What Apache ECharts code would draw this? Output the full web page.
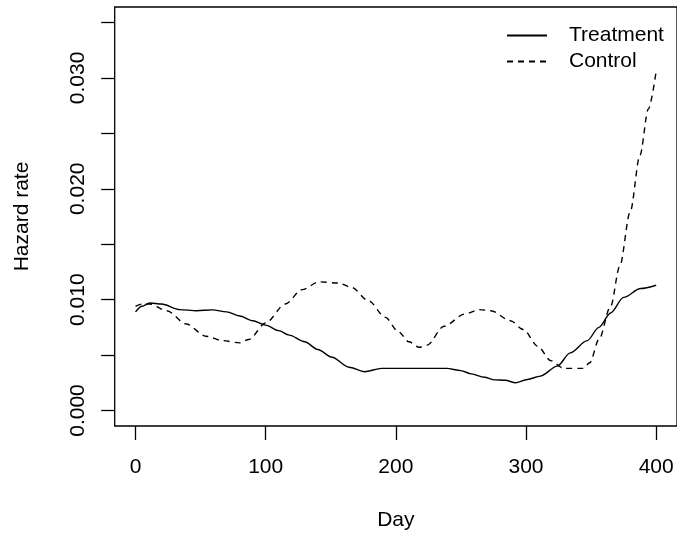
<!DOCTYPE html>
<html>
<head>
<meta charset="utf-8">
<script src="https://cdn.jsdelivr.net/npm/echarts@6/dist/echarts.min.js"></script>
<style>html,body{margin:0;padding:0;background:#fff}#c{width:677px;height:536px}</style>
</head>
<body>
<div id="c"></div>
<script>
var treatDays = [0, 5, 11, 20, 34, 47, 59, 70, 80, 90, 100, 110, 118, 130, 140, 151, 164, 176, 189, 202, 220, 239, 250, 258, 268, 276, 284, 292, 301, 311, 324, 334, 347, 356, 365, 375, 388, 400];
var treatHazard = [0.0089, 0.0094, 0.0097, 0.0096, 0.0091, 0.0090, 0.00908, 0.0089, 0.00853, 0.0081, 0.0077, 0.0072, 0.0068, 0.0062, 0.0055, 0.0048, 0.0039, 0.0035, 0.0038, 0.0038, 0.0038, 0.0038, 0.0036, 0.0033, 0.0030, 0.00276, 0.00273, 0.0025, 0.0028, 0.0031, 0.0040, 0.0052, 0.0063, 0.0075, 0.0088, 0.0102, 0.0110, 0.0113];
var ctrlDays = [0, 5, 11, 24, 39, 54, 67, 80, 87, 100, 115, 128, 141, 156, 166, 179, 192, 202, 210, 218, 224, 237, 253, 264, 273, 288, 298, 309, 319, 329, 344, 349, 356, 365, 372, 380, 387.5, 394, 400];
var ctrlHazard = [0.0094, 0.0096, 0.0096, 0.0090, 0.0078, 0.0067, 0.0063, 0.0061, 0.0064, 0.0079, 0.0096, 0.0109, 0.0116, 0.0115, 0.0111, 0.0099, 0.0084, 0.0071, 0.0062, 0.0057, 0.0059, 0.0076, 0.0087, 0.0091, 0.0090, 0.0081, 0.0073, 0.0058, 0.0045, 0.0038, 0.0038, 0.0043, 0.0064, 0.0094, 0.0130, 0.0179, 0.0230, 0.0272, 0.0306];
var xTicks = [0, 100, 200, 300, 400];
var yTicks = [0, 0.005, 0.01, 0.015, 0.02, 0.025, 0.03, 0.035];
var yLabels = [0, 0.01, 0.02, 0.03];
var seriesNames = ['Treatment', 'Control'];

function pairs(xs, ys) { return xs.map(function (x, i) { return [x, ys[i]]; }); }

var FONT = 'Liberation Sans, Arial, Helvetica, sans-serif';
var chart = echarts.init(document.getElementById('c'), null, { renderer: 'canvas' });
chart.setOption({
  animation: false,
  backgroundColor: '#fff',
  grid: { left: 114.7, top: 7, width: 566, height: 419.7, show: true, borderColor: '#000', borderWidth: 1.3, backgroundColor: 'transparent' },
  legend: {
    orient: 'vertical', left: 506, top: 25, padding: 0, itemWidth: 40, itemHeight: 14, itemGap: 5,
    data: seriesNames,
    itemStyle: { color: 'transparent', borderColor: 'transparent', borderWidth: 0, opacity: 0 },
    textStyle: { fontFamily: FONT, fontSize: 21, color: '#000', lineHeight: 21, padding: [0, 0, 0, 17] }
  },
  xAxis: {
    type: 'value', min: -16, max: 416,
    name: 'Day', nameLocation: 'middle', nameGap: 84,
    nameTextStyle: { fontFamily: FONT, fontSize: 21, color: '#000' },
    splitLine: { show: false },
    axisLine: { show: false, onZero: false },
    axisTick: { show: true, inside: false, length: 14, customValues: xTicks, lineStyle: { color: '#000', width: 1.3 } },
    axisLabel: { customValues: xTicks, margin: 31, fontFamily: FONT, fontSize: 21, color: '#000' }
  },
  yAxis: {
    type: 'value', min: -0.0014, max: 0.0364,
    name: 'Hazard rate', nameLocation: 'middle', nameGap: 82, nameRotate: 90,
    nameTextStyle: { fontFamily: FONT, fontSize: 21, color: '#000' },
    splitLine: { show: false },
    axisLine: { show: false, onZero: false },
    axisTick: { show: true, inside: false, length: 13.5, customValues: yTicks, lineStyle: { color: '#000', width: 1.3 } },
    axisLabel: { customValues: yLabels, rotate: 90, margin: 26, fontFamily: FONT, fontSize: 21, color: '#000',
      formatter: function (v) { return v.toFixed(3); } }
  },
  series: [
    { name: seriesNames[0], type: 'line', data: pairs(treatDays, treatHazard), symbol: 'none', smooth: 0.3, smoothMonotone: 'x',
      lineStyle: { color: '#000', width: 1.4, type: 'solid' }, itemStyle: { color: '#000' } },
    { name: seriesNames[1], type: 'line', data: pairs(ctrlDays, ctrlHazard), symbol: 'none', smooth: 0.3, smoothMonotone: 'x',
      lineStyle: { color: '#000', width: 1.4, type: [6, 5] }, itemStyle: { color: '#000' } }
  ]
});
</script>
</body>
</html>
